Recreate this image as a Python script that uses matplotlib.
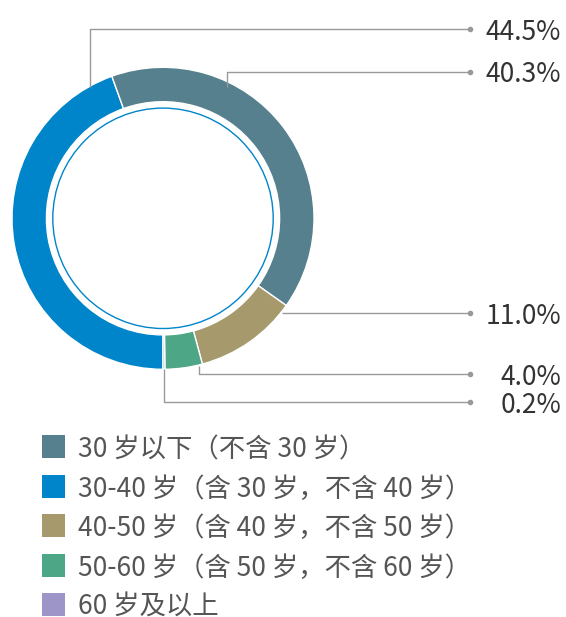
import matplotlib
matplotlib.use("Agg")
import matplotlib.pyplot as plt
from matplotlib.patches import Circle, Rectangle

plt.rcParams['font.family'] = ['Noto Sans CJK SC', 'DejaVu Sans']

# ---- data ----
categories = ["30 岁以下（不含 30 岁）",
              "30-40 岁（含 30 岁，不含 40 岁）",
              "40-50 岁（含 40 岁，不含 50 岁）",
              "50-60 岁（含 50 岁，不含 60 岁）",
              "60 岁及以上"]
values = [40.3, 44.5, 11.0, 4.0, 0.2]
value_labels = ["40.3%", "44.5%", "11.0%", "4.0%", "0.2%"]
colors = ["#56808d", "#0084ca", "#a69a6d", "#4da685", "#9d94c8"]
draw_order = [1, 0, 2, 3, 4]  # clockwise from the bottom

W, H = 566, 617
fig = plt.figure(figsize=(W / 100, H / 100), dpi=100)
ax = fig.add_axes([0, 0, 1, 1])

def Y(y):
    return H - y

cx, cy, R, r_in = 163, 218.3, 151, 116.6

ax.pie([values[i] for i in draw_order],
       colors=[colors[i] for i in draw_order],
       startangle=270, counterclock=False,
       center=(cx, Y(cy)), radius=R,
       wedgeprops=dict(width=R - r_in, edgecolor="white", linewidth=1.0))

ax.add_patch(Circle((cx, Y(cy)), 110.2, fill=False, edgecolor="#0084ca", linewidth=1.0))

# leader lines: (anchor on ring, elbow y, label index)
line_color = "#999999"
dot_x = 470
text_x = 561
leaders = {
    1: [(90, 87), (90, 29)],
    0: [(227, 87), (227, 71.5)],
    2: [(281.7, 313.3)],
    3: [(199.3, 366), (199.3, 374.3)],
    4: [(164, 369), (164, 402.3)],
}
for idx, pts in leaders.items():
    ly = pts[-1][1]
    xs = [p[0] for p in pts] + [dot_x]
    ys = [Y(p[1]) for p in pts] + [Y(ly)]
    ax.plot(xs, ys, color=line_color, linewidth=1.0, solid_capstyle="butt")
    ax.plot([dot_x], [Y(ly)], marker="o", markersize=3, color=line_color)
    ax.text(text_x, Y(ly), value_labels[idx], ha="right", va="center_baseline",
            fontsize=19, fontweight="light", color="#333333")

# legend
leg_y = [446.7, 486.3, 525.7, 565.3, 604.5]
for i, cat in enumerate(categories):
    ax.add_patch(Rectangle((42, Y(leg_y[i]) - 11.3), 23, 22.6,
                           facecolor=colors[i], edgecolor="none"))
    ax.text(78, Y(leg_y[i]), cat, ha="left", va="center_baseline",
            fontsize=19, fontweight="light", color="#555555")

ax.set_xlim(0, W)
ax.set_ylim(0, H)
ax.set_aspect("auto")
ax.axis("off")
fig.savefig("out.png", dpi=100)
